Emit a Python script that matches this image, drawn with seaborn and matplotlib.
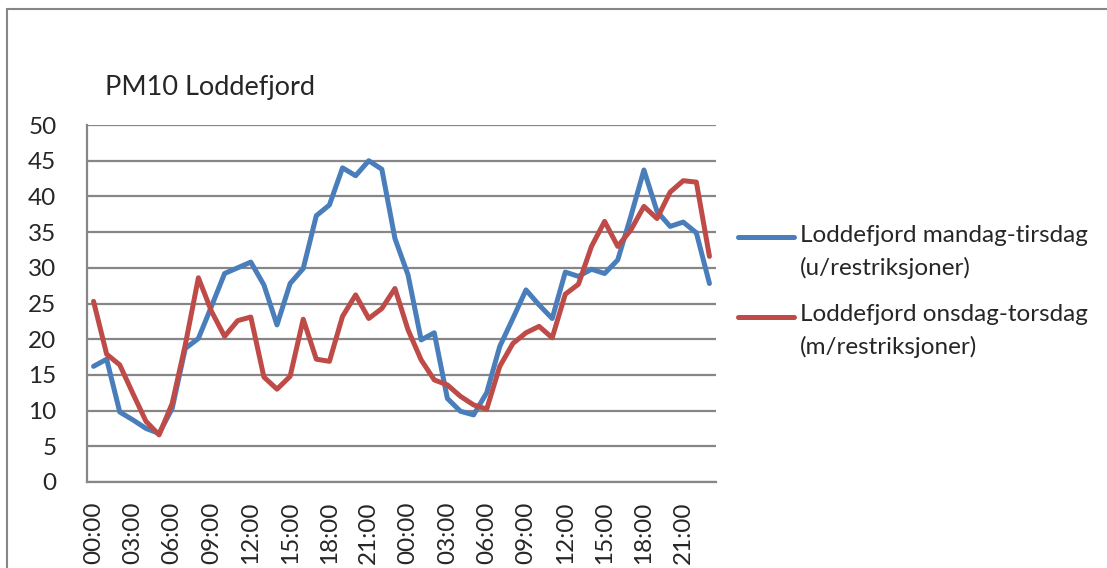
import matplotlib
matplotlib.use("Agg")
import matplotlib.pyplot as plt
import seaborn as sns
import pandas as pd
import numpy as np
from matplotlib.patches import Rectangle
from matplotlib.legend_handler import HandlerLine2D

hours = [f"{h:02d}:00" for h in range(24)] * 2

blue_label = "Loddefjord mandag-tirsdag\n(u/restriksjoner)"
red_label = "Loddefjord onsdag-torsdag\n(m/restriksjoner)"

blue_vals = [16.2, 17.2, 9.8, 8.7, 7.5, 6.8, 10.3, 18.7, 20.1, 24.6, 29.2, 30.0,
             30.8, 27.6, 22.0, 27.8, 29.9, 37.3, 38.8, 44.0, 42.9, 45.0, 43.8, 34.1,
             29.0, 19.9, 20.9, 11.7, 9.9, 9.4, 12.5, 19.0, 22.9, 26.9, 24.8, 22.9,
             29.4, 28.8, 29.8, 29.2, 31.1, 37.2, 43.7, 37.9, 35.8, 36.4, 34.9, 27.8]
red_vals = [25.3, 17.9, 16.4, 12.4, 8.5, 6.6, 11.0, 19.2, 28.6, 23.9, 20.4, 22.6,
            23.1, 14.7, 13.0, 14.8, 22.8, 17.2, 16.9, 23.2, 26.2, 22.9, 24.3, 27.1,
            21.3, 17.1, 14.3, 13.6, 12.0, 10.8, 10.2, 16.2, 19.4, 20.9, 21.8, 20.2,
            26.3, 27.7, 33.0, 36.5, 33.0, 35.3, 38.6, 36.9, 40.6, 42.2, 42.0, 31.6]

title = "PM10 Loddefjord"
yticks = list(range(0, 55, 5))

n = len(hours)
df = pd.DataFrame({
    "idx": list(range(n)) * 2,
    "value": blue_vals + red_vals,
    "series": [blue_label] * n + [red_label] * n,
})

sns.set_style("white")
plt.rcParams["font.family"] = ["Lato", "DejaVu Sans"]

FS = 17.5
LW = 3.6
W, H = 1107, 568
fig = plt.figure(figsize=(W / 100, H / 100), dpi=100)
ax = fig.add_axes([87 / W, 1 - 482 / H, (716 - 87) / W, (482 - 125) / H])

palette = {blue_label: "#4a7ebb", red_label: "#be4b48"}
sns.lineplot(data=df, x="idx", y="value", hue="series", palette=palette,
             linewidth=LW, ax=ax, legend=True)

gray = "#868686"
ax.set_xlim(-0.5, n - 0.5)
ax.set_ylim(0, 50)
ax.set_yticks(yticks)
ax.set_yticklabels([str(v) for v in yticks], fontsize=FS)
ax.yaxis.grid(True, color=gray, linewidth=1.6)
ax.xaxis.grid(False)
ax.set_axisbelow(True)

ax.set_xticks(list(range(0, n, 3)))
ax.set_xticklabels([hours[i] for i in range(0, n, 3)], rotation=90, fontsize=FS)
ax.set_xticks(np.arange(-0.5, n, 1.0), minor=True)
ax.tick_params(axis="x", which="major", length=0, pad=14)
ax.tick_params(axis="x", which="minor", length=5, width=1.5, color=gray, direction="out")
ax.tick_params(axis="y", which="major", length=8, width=1.5, color=gray, pad=14, direction="out")
for lbl in ax.get_xticklabels():
    lbl.set_verticalalignment("top")

for side in ["top", "right"]:
    ax.spines[side].set_visible(False)
for side in ["left", "bottom"]:
    ax.spines[side].set_color(gray)
    ax.spines[side].set_linewidth(1.6)

ax.set_xlabel("")
ax.set_ylabel("")

LS = 1.6
SHIFT = 0.5 * LS * FS * 0.86 - 1.5


class UpHandler(HandlerLine2D):
    def create_artists(self, legend, orig_handle, xdescent, ydescent, width,
                       height, fontsize, trans):
        arts = super().create_artists(legend, orig_handle, xdescent, ydescent,
                                      width, height, fontsize, trans)
        for a in arts:
            a.set_ydata(np.asarray(a.get_ydata()) + SHIFT)
        return arts


handles, labels = ax.get_legend_handles_labels()
leg = ax.legend(handles, labels, loc="upper left",
                bbox_to_anchor=(738 / W, 1 - 225 / H),
                bbox_transform=fig.transFigure, frameon=False, fontsize=FS,
                handlelength=2.3, handletextpad=0.25, labelspacing=1.05,
                borderaxespad=0, borderpad=0,
                handler_map={h: UpHandler() for h in handles})
for line in leg.get_lines():
    line.set_linewidth(LW)
for t in leg.get_texts():
    t.set_linespacing(LS)

fig.text(105 / W, 1 - 95 / H, title, fontsize=19.5, ha="left", va="baseline")

frame = Rectangle((7 / W, -0.1), 1.2, 1.1 - 9.5 / H, transform=fig.transFigure,
                  fill=False, edgecolor=gray, linewidth=1.5)
fig.add_artist(frame)

fig.savefig("out.png", dpi=100)
